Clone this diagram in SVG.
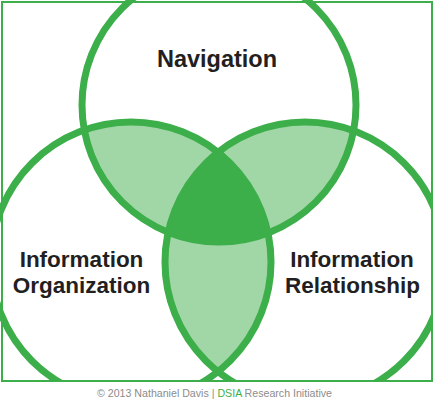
<svg xmlns="http://www.w3.org/2000/svg" width="436" height="402" viewBox="0 0 436 402">
  <style>
    .ring { fill: none; stroke: #3daf4a; stroke-width: 7; }
    .lbl { font-family: "Liberation Sans", Arial, sans-serif; font-weight: bold; font-size: 22.5px; fill: #231f20; text-anchor: middle; }
    .light { fill: #a1d6a6; }
    .dark { fill: #3daf4a; }
    .credit { font-family: "Liberation Sans", Arial, sans-serif; font-size: 10.5px; fill: #8c8c8c; }
  </style>
  <defs>
    <clipPath id="frameClip"><rect x="0" y="0" width="433" height="381.5"/></clipPath>
    <clipPath id="cTop"><circle cx="219" cy="105" r="137"/></clipPath>
    <clipPath id="cLeft"><circle cx="131" cy="262" r="140"/></clipPath>
    <clipPath id="cRight"><circle cx="305" cy="262" r="140"/></clipPath>
  </defs>
  <rect x="0" y="0" width="436" height="402" fill="#ffffff"/>
  <g id="overlaps" clip-path="url(#frameClip)">
    <g clip-path="url(#cTop)">
      <circle class="light" cx="131" cy="262" r="140"/>
      <circle class="light" cx="305" cy="262" r="140"/>
    </g>
    <g clip-path="url(#cLeft)">
      <circle class="light" cx="305" cy="262" r="140"/>
      <g clip-path="url(#cTop)">
        <circle class="dark" cx="305" cy="262" r="140"/>
      </g>
    </g>
  </g>
  <g id="connectors"></g>
  <g clip-path="url(#frameClip)">
    <g id="navigation">
      <circle class="ring" cx="219" cy="105" r="137"/>
    </g>
    <g id="information-organization">
      <circle class="ring" cx="131" cy="262" r="140"/>
    </g>
    <g id="information-relationship">
      <circle class="ring" cx="305" cy="262" r="140"/>
    </g>
  </g>
  <rect x="2" y="2" width="430" height="379" fill="none" stroke="#3daf4a" stroke-width="2"/>
  <g id="labels">
    <text class="lbl" x="217" y="66.5" style="font-size:23.5px">Navigation</text>
    <text class="lbl" x="81.5" y="266.5">Information</text>
    <text class="lbl" x="81.5" y="292.5">Organization</text>
    <text class="lbl" x="352" y="266.5">Information</text>
    <text class="lbl" x="352.5" y="293">Relationship</text>
  </g>
  <text class="credit" x="97" y="396.5" textLength="235" lengthAdjust="spacingAndGlyphs">© 2013 Nathaniel Davis  |  <tspan fill="#3daf4a">DSIA</tspan> Research Initiative</text>
</svg>
